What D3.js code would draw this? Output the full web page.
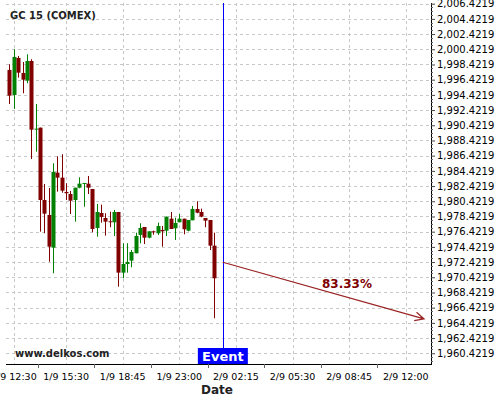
<!DOCTYPE html>
<html>
<head>
<meta charset="utf-8">
<script src="https://cdn.jsdelivr.net/npm/d3@7"></script>
<style>
  body { margin: 0; background: #fff; }
  svg { display: block; font-family: "DejaVu Sans", sans-serif; }
</style>
</head>
<body>
<div id="chart"></div>
<script>
// OHLC, one value per 15 min candle
var opens  = [1997.70, 1994.41, 1999.28, 1997.30, 1996.29, 1998.88, 1989.84, 1990.11, 1980.59, 1978.62,
              1974.32, 1984.19, 1983.53, 1981.65, 1981.38, 1980.59, 1982.21, 1982.74, 1982.74, 1982.04,
              1976.91, 1978.88, 1978.22, 1977.79, 1977.66, 1979.01, 1971.03, 1972.17, 1972.61, 1973.58,
              1975.99, 1977.04, 1975.63, 1976.47, 1976.21, 1976.65, 1976.55, 1978.13, 1976.87, 1977.66,
              1978.13, 1976.55, 1977.92, 1979.41, 1979.01, 1978.22, 1977.96, 1974.58];
var highs  = [1998.45, 2000.42, 1999.54, 1998.75, 1999.76, 1999.11, 1993.22, 1990.11, 1982.70, 1982.17,
              1985.42, 1986.34, 1986.61, 1982.79, 1981.78, 1982.21, 1983.58, 1982.83, 1983.75, 1982.04,
              1980.07, 1979.98, 1978.84, 1979.05, 1979.28, 1979.01, 1974.90, 1974.90, 1974.01, 1976.29,
              1977.53, 1977.04, 1976.47, 1976.55, 1977.61, 1977.17, 1978.40, 1979.01, 1978.26, 1978.75,
              1978.13, 1977.96, 1979.80, 1980.42, 1979.45, 1978.22, 1977.96, 1976.29];
var lows   = [1993.22, 1992.57, 1996.69, 1994.63, 1995.95, 1985.99, 1986.95, 1976.42, 1976.21, 1972.47,
              1970.95, 1981.69, 1981.55, 1980.59, 1978.75, 1977.74, 1982.13, 1979.71, 1981.38, 1976.34,
              1975.76, 1977.61, 1975.90, 1977.00, 1975.86, 1969.19, 1970.29, 1971.03, 1971.74, 1973.58,
              1974.90, 1974.80, 1975.55, 1976.03, 1975.99, 1974.45, 1975.86, 1976.78, 1975.33, 1977.66,
              1976.08, 1976.47, 1977.92, 1978.84, 1978.32, 1977.00, 1974.01, 1965.03];
var closes = [1994.32, 1999.41, 1997.34, 1996.42, 1998.88, 1989.84, 1989.98, 1980.59, 1978.79, 1974.45,
              1984.28, 1983.53, 1981.82, 1981.48, 1980.50, 1982.21, 1982.74, 1982.83, 1982.21, 1976.78,
              1979.01, 1978.36, 1977.74, 1977.66, 1979.01, 1971.03, 1972.17, 1972.44, 1973.75, 1975.86,
              1976.91, 1975.63, 1976.47, 1976.34, 1977.17, 1976.47, 1978.40, 1976.78, 1977.57, 1978.13,
              1976.74, 1977.96, 1979.41, 1978.92, 1978.40, 1977.87, 1974.58, 1970.29];

// x axis labels sit on candle slots
var tickIdx    = [1, 13, 26, 39, 52, 65, 78, 91];
var tickLabels = ["1/9 12:30", "1/9 15:30", "1/9 18:45", "1/9 23:00",
                  "2/9 02:15", "2/9 05:30", "2/9 08:45", "2/9 12:00"];

// event + forecast arrow
var eventIdx = 49;
var arrowFrom = [49, 1972.40];
var arrowTo   = [95.2, 1964.94];
var arrowText = "83.33%";

var yTicks = d3.range(1960.4219, 2007, 2);

var W = 500, H = 400;
var pLeft = 6, pRight = 431, pTop = 3, pBottom = 364;

var svg = d3.select("#chart").append("svg")
    .attr("width", W)
    .attr("height", H);

var x = d3.scaleLinear().domain([-0.8, 96.8]).range([pLeft, pRight]);
var y = d3.scaleLinear().domain([1959.01, 2006.51]).range([pBottom, pTop]);

// grid
var grid = svg.append("g")
    .attr("stroke", "#c8c8c8")
    .attr("stroke-dasharray", "3,3")
    .attr("stroke-width", 1);

grid.selectAll(".hg").data(yTicks).enter().append("line")
    .attr("x1", pLeft).attr("x2", pRight)
    .attr("y1", function (d) { return Math.round(y(d)) + 0.5; })
    .attr("y2", function (d) { return Math.round(y(d)) + 0.5; });

grid.selectAll(".vg").data(tickIdx).enter().append("line")
    .attr("y1", pTop).attr("y2", pBottom)
    .attr("x1", function (d) { return Math.round(x(d)) + 0.5; })
    .attr("x2", function (d) { return Math.round(x(d)) + 0.5; });

// candles
var candles = svg.append("g")
    .selectAll("g")
    .data(d3.range(opens.length))
    .enter()
    .append("g")
    .attr("fill", function (i) { return closes[i] >= opens[i] ? "#008000" : "#800000"; })
    .attr("stroke", function (i) { return closes[i] >= opens[i] ? "#008000" : "#800000"; });

candles.append("line")
    .attr("x1", function (i) { return Math.round(x(i)) + 0.5; })
    .attr("x2", function (i) { return Math.round(x(i)) + 0.5; })
    .attr("y1", function (i) { return y(highs[i]); })
    .attr("y2", function (i) { return y(lows[i]); })
    .attr("stroke-width", 1);

candles.append("rect")
    .attr("x", function (i) { return Math.round(x(i)) - 1.5; })
    .attr("width", 4)
    .attr("y", function (i) { return y(Math.max(opens[i], closes[i])); })
    .attr("height", function (i) { return Math.max(1, Math.abs(y(opens[i]) - y(closes[i]))); })
    .attr("stroke", "none");

// right axis
var yAxis = d3.axisRight(y)
    .tickValues(yTicks)
    .tickFormat(d3.format(",.4f"))
    .tickSize(4)
    .tickSizeOuter(0);

var ya = svg.append("g")
    .attr("transform", "translate(" + pRight + ",0)")
    .call(yAxis);
ya.select(".domain").attr("d", "M0.5," + pTop + "V" + pBottom);
ya.selectAll("text").attr("font-size", 10).attr("font-family", "DejaVu Sans").attr("fill", "#000").attr("x", 6);
ya.selectAll("line").attr("stroke", "#444");

var minor = d3.range(1959.4219, 2006.5, 0.5).filter(function (d) {
    return Math.abs(((d - 1960.4219) % 2 + 2) % 2) > 0.01;
});
ya.selectAll(".minor").data(minor).enter().append("line")
    .attr("x1", 0).attr("x2", 2)
    .attr("y1", function (d) { return Math.round(y(d)) + 0.5; })
    .attr("y2", function (d) { return Math.round(y(d)) + 0.5; })
    .attr("stroke", "#666");

// bottom axis
svg.append("line")
    .attr("x1", pLeft).attr("x2", pRight + 1)
    .attr("y1", pBottom + 0.5).attr("y2", pBottom + 0.5)
    .attr("stroke", "#000");

var mids = tickIdx.map(function (d) { return d - 6.5; }).concat([tickIdx[tickIdx.length - 1] + 6.5]);
svg.selectAll(".xt").data(mids.filter(function (d) { return x(d) > pLeft && x(d) < pRight; }))
    .enter().append("line")
    .attr("x1", function (d) { return Math.round(x(d)) + 0.5; })
    .attr("x2", function (d) { return Math.round(x(d)) + 0.5; })
    .attr("y1", pBottom).attr("y2", pBottom + 4)
    .attr("stroke", "#666");

svg.selectAll(".xl").data(tickIdx).enter().append("text")
    .attr("x", function (d) { return x(d); })
    .attr("y", 380)
    .attr("text-anchor", "middle")
    .attr("font-size", 9.5)
    .text(function (d, i) { return tickLabels[i]; });

svg.append("text")
    .attr("x", 217).attr("y", 394)
    .attr("text-anchor", "middle")
    .attr("font-size", 12)
    .attr("font-weight", "bold")
    .attr("fill", "#222")
    .text("Date");

// event marker
svg.append("line")
    .attr("x1", Math.round(x(eventIdx)) + 0.5)
    .attr("x2", Math.round(x(eventIdx)) + 0.5)
    .attr("y1", pTop).attr("y2", pBottom)
    .attr("stroke", "#0000ff");

svg.append("rect")
    .attr("x", x(eventIdx) - 25).attr("y", 348)
    .attr("width", 50).attr("height", 16)
    .attr("fill", "#0000ff");

svg.append("text")
    .attr("x", x(eventIdx)).attr("y", 361)
    .attr("text-anchor", "middle")
    .attr("font-size", 13)
    .attr("font-weight", "bold")
    .attr("fill", "#fff")
    .text("Event");

// forecast arrow
var ax1 = x(arrowFrom[0]), ay1 = y(arrowFrom[1]);
var ax2 = x(arrowTo[0]), ay2 = y(arrowTo[1]);
var ang = Math.atan2(ay2 - ay1, ax2 - ax1);
var hl = 10, ha = 0.45;

svg.append("path")
    .attr("d", "M" + ax1 + "," + ay1 + "L" + ax2 + "," + ay2 +
        "M" + (ax2 - hl * Math.cos(ang - ha)) + "," + (ay2 - hl * Math.sin(ang - ha)) +
        "L" + ax2 + "," + ay2 +
        "L" + (ax2 - hl * Math.cos(ang + ha)) + "," + (ay2 - hl * Math.sin(ang + ha)))
    .attr("fill", "none")
    .attr("stroke", "#992222")
    .attr("stroke-width", 1.2);

svg.append("text")
    .attr("x", 347).attr("y", 288)
    .attr("text-anchor", "middle")
    .attr("font-size", 12)
    .attr("font-weight", "bold")
    .attr("fill", "#800000")
    .text(arrowText);

// title and watermark
svg.append("text")
    .attr("x", 10).attr("y", 19)
    .attr("font-size", 10)
    .attr("font-weight", "bold")
    .attr("fill", "#222")
    .text("GC 15 (COMEX)");

svg.append("text")
    .attr("x", 15).attr("y", 357)
    .attr("font-size", 10)
    .attr("font-weight", "bold")
    .attr("fill", "#222")
    .text("www.delkos.com");
</script>
</body>
</html>
